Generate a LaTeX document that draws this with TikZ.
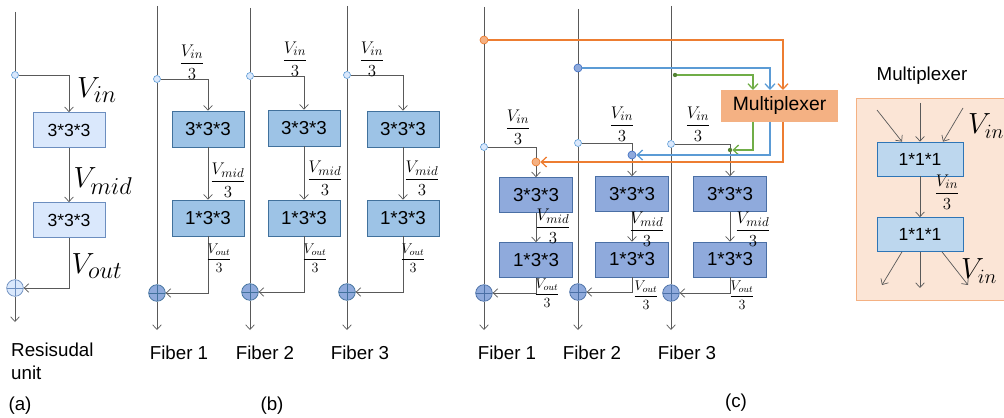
\documentclass[tikz,border=0pt]{standalone}
\usepackage[no-math]{fontspec}
\setmainfont{Liberation Sans}
\usepackage{tikz}
\usetikzlibrary{positioning,arrows.meta,calc}
\definecolor{wiregray}{HTML}{595959}
\definecolor{fillA}{HTML}{DAE8FC}
\definecolor{borderA}{HTML}{6C8EBF}
\definecolor{fillB}{HTML}{9DC3E6}
\definecolor{borderB}{HTML}{41719C}
\definecolor{fillC}{HTML}{8FAADC}
\definecolor{borderC}{HTML}{4A6FA5}
\definecolor{fillM}{HTML}{BDD7EE}
\definecolor{borderM}{HTML}{2E75B6}
\definecolor{muxorange}{HTML}{F4B183}
\definecolor{panelpeach}{HTML}{FBE5D6}
\definecolor{lineorange}{HTML}{ED7D31}
\definecolor{lineblue}{HTML}{5B9BD5}
\definecolor{linegreen}{HTML}{70AD47}
\definecolor{dotgreen}{HTML}{548235}
\definecolor{dotblue}{HTML}{4472C4}
\tikzset{
    wire/.style={draw=wiregray, line width=0.6pt},
    flow/.style={wire, -{Straight Barb[length=1.4mm,width=2.6mm]}},
    orangeflow/.style={draw=lineorange, line width=1.1pt, -{Straight Barb[length=1.6mm,width=3mm]}},
    blueflow/.style={draw=lineblue, line width=1.1pt, -{Straight Barb[length=1.6mm,width=3mm]}},
    greenflow/.style={draw=linegreen, line width=1.1pt, -{Straight Barb[length=1.6mm,width=3mm]}},
    convA/.style={
        draw=borderA, fill=fillA, line width=0.6pt,
        minimum width=21.6mm, minimum height=10.5mm,
        font=\fontsize{15}{18}\selectfont
    },
    convB/.style={
        draw=borderB, fill=fillB, line width=0.6pt,
        minimum width=21.6mm, minimum height=10.8mm,
        font=\fontsize{16}{19}\selectfont
    },
    convC/.style={
        draw=borderC, fill=fillC, line width=0.6pt,
        minimum width=21.9mm, minimum height=10.5mm,
        font=\fontsize{16}{19}\selectfont
    },
    muxconv/.style={
        draw=borderM, fill=fillM, line width=0.6pt,
        minimum width=25.8mm, minimum height=10.2mm,
        font=\fontsize{15}{18}\selectfont
    },
    muxbox/.style={
        fill=muxorange, minimum width=35.1mm, minimum height=9.6mm,
        font=\fontsize{16.5}{19}\selectfont
    },
    muxpanel/.style={
        draw=muxorange, fill=panelpeach, line width=0.6pt,
        minimum width=46.2mm, minimum height=60.6mm
    },
    splitdot/.style={circle, draw=lineblue, fill=fillA, line width=0.5pt, inner sep=0pt, minimum size=2.1mm},
    colordot/.style={circle, line width=0.6pt, inner sep=0pt, minimum size=2.4mm},
    sumnode/.style={
        circle, line width=0.6pt, inner sep=0pt, minimum size=5mm,
        path picture={
            \draw[line width=0.5pt] (path picture bounding box.north) -- (path picture bounding box.south)
                (path picture bounding box.west) -- (path picture bounding box.east);
        }
    },
    sumA/.style={sumnode, draw=borderA, fill=fillA},
    sumB/.style={sumnode, draw=borderB, fill=fillC},
    bigmath/.style={font=\fontsize{28}{32}\selectfont, inner sep=0pt},
    muxmath/.style={font=\fontsize{26}{30}\selectfont, inner sep=0pt},
    fraclabel/.style={font=\fontsize{15.5}{18}\selectfont, inner sep=0pt},
    fracsmall/.style={font=\fontsize{12}{14}\selectfont, inner sep=0pt},
    caption/.style={font=\fontsize{16}{19.6}\selectfont, inner sep=0pt, align=left},
}

\begin{document}
\begin{tikzpicture}[x=0.3mm, y=-0.3mm]
    \useasboundingbox (0,0) rectangle (1004,418);

    % (a) residual unit
    \coordinate (topA) at (15,12);
    \coordinate (endA) at (15,322);
    \node[splitdot] (splitA) at (15,75) {};
    \node[sumA] (sumA) at (15,288) {};
    \node[convA] (convA1) at (69,130) {3*3*3};
    \node[convA] (convA2) at (69,220) {3*3*3};
    \draw[wire] (topA) -- (splitA) -- (sumA);
    \draw[flow] (sumA) -- (endA);
    \draw[flow] (splitA) -| (convA1);
    \draw[flow] (convA1) -- (convA2);
    \draw[flow] (convA2) |- (sumA);
    \node[bigmath] (vinA) at (97,90) {$V_{in}$};
    \node[bigmath] (vmidA) at (103,181) {$V_{mid}$};
    \node[bigmath] (voutA) at (97,266) {$V_{out}$};
    \node[caption, anchor=north west] (capA) at (11,343) {Resisudal\\unit};
    \node[caption] (labA) at (20,406) {(a)};

    % (b) three fibers
    \coordinate (topB1) at (157,6);
    \coordinate (endB1) at (157,330);
    \node[splitdot] (splitB1) at (157,79) {};
    \node[sumB] (sumB1) at (157,293) {};
    \node[convB] (convB11) at (208,129) {3*3*3};
    \node[convB] (convB12) at (208,218) {1*3*3};
    \draw[wire] (topB1) -- (splitB1) -- (sumB1);
    \draw[flow] (sumB1) -- (endB1);
    \draw[flow] (splitB1) -| (convB11);
    \draw[flow] (convB11) -- (convB12);
    \draw[flow] (convB12) |- (sumB1);
    \node[fraclabel] (vinB1) at (192,62) {$\displaystyle\frac{V_{in}}{3}$};
    \node[fraclabel] (vmidB1) at (228,180) {$\displaystyle\frac{V_{mid}}{3}$};
    \node[fracsmall] (voutB1) at (219,258) {$\displaystyle\frac{V_{out}}{3}$};

    \coordinate (topB2) at (250,8);
    \coordinate (endB2) at (250,330);
    \node[splitdot] (splitB2) at (250,76) {};
    \node[sumB] (sumB2) at (250,292) {};
    \node[convB] (convB21) at (304,128) {3*3*3};
    \node[convB] (convB22) at (304,218) {1*3*3};
    \draw[wire] (topB2) -- (splitB2) -- (sumB2);
    \draw[flow] (sumB2) -- (endB2);
    \draw[flow] (splitB2) -| (convB21);
    \draw[flow] (convB21) -- (convB22);
    \draw[flow] (convB22) |- (sumB2);
    \node[fraclabel] (vinB2) at (295,59) {$\displaystyle\frac{V_{in}}{3}$};
    \node[fraclabel] (vmidB2) at (325,178) {$\displaystyle\frac{V_{mid}}{3}$};
    \node[fracsmall] (voutB2) at (315,258) {$\displaystyle\frac{V_{out}}{3}$};

    \coordinate (topB3) at (347,6);
    \coordinate (endB3) at (347,330);
    \node[splitdot] (splitB3) at (347,75) {};
    \node[sumB] (sumB3) at (347,292) {};
    \node[convB] (convB31) at (403,129) {3*3*3};
    \node[convB] (convB32) at (403,218) {1*3*3};
    \draw[wire] (topB3) -- (splitB3) -- (sumB3);
    \draw[flow] (sumB3) -- (endB3);
    \draw[flow] (splitB3) -| (convB31);
    \draw[flow] (convB31) -- (convB32);
    \draw[flow] (convB32) |- (sumB3);
    \node[fraclabel] (vinB3) at (372,59) {$\displaystyle\frac{V_{in}}{3}$};
    \node[fraclabel] (vmidB3) at (422,178) {$\displaystyle\frac{V_{mid}}{3}$};
    \node[fracsmall] (voutB3) at (413,258) {$\displaystyle\frac{V_{out}}{3}$};

    \node[caption] (fibB1) at (179,353) {Fiber 1};
    \node[caption] (fibB2) at (265,353) {Fiber 2};
    \node[caption] (fibB3) at (360,353) {Fiber 3};
    \node[caption] (labB) at (272,406) {(b)};

    % (c) fibers with multiplexer
    \node[muxbox] (mux) at (779.5,106) {Multiplexer};
    \coordinate (muxInG) at (753,90);
    \coordinate (muxInB) at (770,90);
    \coordinate (muxInO) at (783,90);
    \coordinate (muxOutG) at (753,122);
    \coordinate (muxOutB) at (770,122);
    \coordinate (muxOutO) at (783,122);

    \coordinate (topC1) at (484,7);
    \coordinate (endC1) at (484,330);
    \node[colordot, draw=lineorange, fill=muxorange] (odotTop) at (484,40) {};
    \node[splitdot] (splitC1) at (484,147) {};
    \node[colordot, draw=lineorange, fill=muxorange] (odotC1) at (536,162) {};
    \node[sumB, fill=fillC, draw=borderC] (sumC1) at (484,293) {};
    \node[convC] (convC11) at (536,195) {3*3*3};
    \node[convC] (convC12) at (536,260) {1*3*3};
    \draw[wire] (topC1) -- (odotTop) -- (splitC1) -- (sumC1);
    \draw[flow] (sumC1) -- (endC1);
    \draw[wire] (splitC1) -| (odotC1);
    \draw[flow] (odotC1) -- (convC11);
    \draw[flow] (convC11) -- (convC12);
    \draw[flow] (convC12) |- (sumC1);
    \node[fraclabel] (vinC1) at (518,127) {$\displaystyle\frac{V_{in}}{3}$};
    \node[fraclabel] (vmidC1) at (553,226) {$\displaystyle\frac{V_{mid}}{3}$};
    \node[fracsmall] (voutC1) at (547,293) {$\displaystyle\frac{V_{out}}{3}$};

    \coordinate (topC2) at (578,9);
    \coordinate (endC2) at (578,330);
    \node[colordot, draw=dotblue, fill=fillC] (bdotTop) at (578,68) {};
    \node[splitdot] (splitC2) at (578,143) {};
    \node[colordot, draw=dotblue, fill=fillC] (bdotC2) at (632,155) {};
    \node[sumB, fill=fillC, draw=borderC] (sumC2) at (578,292) {};
    \node[convC] (convC21) at (632,194) {3*3*3};
    \node[convC] (convC22) at (632,259.5) {1*3*3};
    \draw[wire] (topC2) -- (bdotTop) -- (splitC2) -- (sumC2);
    \draw[flow] (sumC2) -- (endC2);
    \draw[wire] (splitC2) -| (bdotC2);
    \draw[flow] (bdotC2) -- (convC21);
    \draw[flow] (convC21) -- (convC22);
    \draw[flow] (convC22) |- (sumC2);
    \node[fraclabel] (vinC2) at (622,124) {$\displaystyle\frac{V_{in}}{3}$};
    \node[fraclabel] (vmidC2) at (647,229) {$\displaystyle\frac{V_{mid}}{3}$};
    \node[fracsmall] (voutC2) at (646,295) {$\displaystyle\frac{V_{out}}{3}$};

    \coordinate (topC3) at (671,6);
    \coordinate (endC3) at (671,330);
    \node[circle, fill=dotgreen, inner sep=0pt, minimum size=1.3mm] (gdotTop) at (675,75) {};
    \node[splitdot] (splitC3) at (671,144) {};
    \node[circle, fill=dotgreen, inner sep=0pt, minimum size=1.3mm] (gdotC3) at (730,150) {};
    \node[sumB, fill=fillC, draw=borderC] (sumC3) at (671,293) {};
    \node[convC] (convC31) at (730,194) {3*3*3};
    \node[convC] (convC32) at (730,259.5) {1*3*3};
    \draw[wire] (topC3) -- (splitC3) -- (sumC3);
    \draw[flow] (sumC3) -- (endC3);
    \draw[wire] (splitC3) -| (gdotC3);
    \draw[flow] (gdotC3) -- (convC31);
    \draw[flow] (convC31) -- (convC32);
    \draw[flow] (convC32) |- (sumC3);
    \node[fraclabel] (vinC3) at (698,124) {$\displaystyle\frac{V_{in}}{3}$};
    \node[fraclabel] (vmidC3) at (753,229) {$\displaystyle\frac{V_{mid}}{3}$};
    \node[fracsmall] (voutC3) at (742,295) {$\displaystyle\frac{V_{out}}{3}$};

    % routes through the multiplexer
    \draw[orangeflow] (odotTop) -| (muxInO);
    \draw[blueflow] (bdotTop) -| (muxInB);
    \draw[greenflow] (gdotTop) -| (muxInG);
    \draw[greenflow] (muxOutG) |- (gdotC3);
    \draw[blueflow] (muxOutB) |- (bdotC2);
    \draw[orangeflow] (muxOutO) |- (odotC1);

    \node[caption] (fibC1) at (507,353) {Fiber 1};
    \node[caption] (fibC2) at (592,353) {Fiber 2};
    \node[caption] (fibC3) at (687,353) {Fiber 3};
    \node[caption] (labC) at (736,403) {(c)};

    % multiplexer detail
    \node[caption] (muxtitle) at (922,76) {Multiplexer};
    \node[muxpanel] (panel) at (933,199) {};
    \node[muxconv] (mb1) at (920,159) {1*1*1};
    \node[muxconv] (mb2) at (920,234.5) {1*1*1};
    \coordinate (in1) at (877,110);
    \coordinate (in2) at (920,103);
    \coordinate (in3) at (963,108);
    \coordinate (out1) at (882,285);
    \coordinate (out2) at (920,288);
    \coordinate (out3) at (968,285);
    \draw[flow] (in1) -- ($(mb1.north)+(-18,0)$);
    \draw[flow] (in2) -- (mb1.north);
    \draw[flow] (in3) -- ($(mb1.north)+(23,0)$);
    \draw[flow] (mb1) -- (mb2);
    \draw[flow] ($(mb2.south)+(-18,0)$) -- (out1);
    \draw[flow] (mb2.south) -- (out2);
    \draw[flow] ($(mb2.south)+(22,0)$) -- (out3);
    \node[fraclabel] (vinM) at (947,192) {$\displaystyle\frac{V_{in}}{3}$};
    \node[muxmath, anchor=west] (vinMtop) at (968,126) {$V_{in}$};
    \node[muxmath, anchor=west] (vinMbot) at (961,271) {$V_{in}$};
\end{tikzpicture}
\end{document}
